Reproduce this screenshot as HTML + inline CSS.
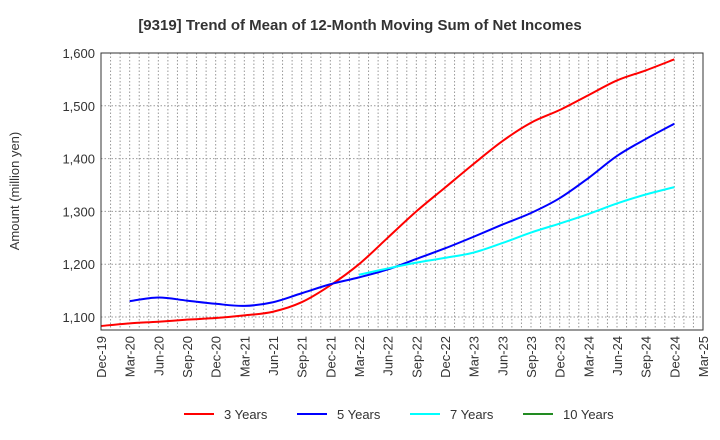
<!DOCTYPE html>
<html><head><meta charset="utf-8"><style>
body{margin:0;background:#fff;font-family:"Liberation Sans",sans-serif}
svg{display:block}
</style></head><body>
<svg id="chart" width="720" height="440" xmlns="http://www.w3.org/2000/svg" font-family="Liberation Sans, sans-serif">
<text x="360" y="30" text-anchor="middle" font-size="15" font-weight="bold" fill="#333">[9319]  Trend of Mean of 12-Month Moving Sum of Net Incomes</text>
<text transform="translate(19,191) rotate(-90)" text-anchor="middle" font-size="13" fill="#333">Amount (million yen)</text>
<g id="grid"></g>
<g id="series"></g>
<g id="axes"></g>
<g id="legend"></g>
</svg>
<script>
const xLabels=["Dec-19","Mar-20","Jun-20","Sep-20","Dec-20","Mar-21","Jun-21","Sep-21","Dec-21","Mar-22","Jun-22","Sep-22","Dec-22","Mar-23","Jun-23","Sep-23","Dec-23","Mar-24","Jun-24","Sep-24","Dec-24","Mar-25"];
const yTicks=[1100,1200,1300,1400,1500,1600];
// values per quarter index (0 = Dec-19)
const s3=[1083,1088,1091,1095,1098,1103,1110,1128,1160,1200,1250,1300,1345,1390,1433,1468,1492,1520,1548,1567,1588];
const s5=[null,1130,1137,1131,1125,1121,1128,1145,1162,1175,1190,1210,1230,1252,1275,1297,1325,1363,1405,1437,1466];
const s7=[null,null,null,null,null,null,null,null,null,1180,1192,1203,1212,1222,1240,1260,1277,1295,1315,1332,1346];
const s10=[];
const L=101,R=703,T=53,B=330,yMin=1075,yMax=1600+ (53-53)/0.528;
const NS="http://www.w3.org/2000/svg";
function X(q){return L+q*3*(R-L)/63}
function Y(v){return 317-(v-1100)*264/500}
function mk(t,a,p){const e=document.createElementNS(NS,t);for(const k in a)e.setAttribute(k,a[k]);p.appendChild(e);return e}
const grid=document.getElementById('grid'),axes=document.getElementById('axes'),ser=document.getElementById('series'),leg=document.getElementById('legend');
for(let m=1;m<63;m++){const x=L+m*(R-L)/63;
const g=mk('line',{x1:x,x2:x,y1:T,y2:B,stroke:'#999','stroke-dasharray':'1.5,2','stroke-width':1},grid);

}
yTicks.forEach(v=>{const y=Y(v);
const g=mk('line',{x1:L,x2:R,y1:y,y2:y,stroke:'#999','stroke-dasharray':'1.5,2','stroke-width':1},grid);


const t=mk('text',{x:L-6,y:y+5,'text-anchor':'end','font-size':13,fill:'#333'},axes);t.textContent=v.toLocaleString('en-US');

});
xLabels.forEach((l,i)=>{const x=X(i);
const t=mk('text',{transform:`translate(${x+5},336) rotate(-90)`,'text-anchor':'end','font-size':13,fill:'#333'},axes);t.textContent=l;

});
const fr=mk('rect',{x:L,y:T,width:R-L,height:B-T,fill:'none',stroke:'#333','stroke-width':1},axes);


function path(arr){const pts=[];arr.forEach((v,i)=>{if(v!=null)pts.push([X(i),Y(v)])});if(pts.length<2)return '';
let d=`M${pts[0][0]},${pts[0][1]}`;
for(let i=0;i<pts.length-1;i++){const p0=pts[i-1]||pts[i],p1=pts[i],p2=pts[i+1],p3=pts[i+2]||p2;
d+=` C${p1[0]+(p2[0]-p0[0])/6},${p1[1]+(p2[1]-p0[1])/6} ${p2[0]-(p3[0]-p1[0])/6},${p2[1]-(p3[1]-p1[1])/6} ${p2[0]},${p2[1]}`;}
return d}
const series=[[s3,'#ff0000','3 Years','series-3-years'],[s5,'#0000ff','5 Years','series-5-years'],[s7,'#00ffff','7 Years','series-7-years'],[s10,'#228b22','10 Years','series-10-years']];
series.forEach((s,i)=>{const d=path(s[0]);
if(d){const p=mk('path',{d:d,fill:'none',stroke:s[1],'stroke-width':2},ser);

}
const lx=184+i*113;
const g=mk('g',{},leg);


mk('line',{x1:lx,x2:lx+30,y1:414,y2:414,stroke:s[1],'stroke-width':2},g);
const t=mk('text',{x:lx+40,y:419,'font-size':13,fill:'#333'},g);t.textContent=s[2];});
</script>
</body></html>
